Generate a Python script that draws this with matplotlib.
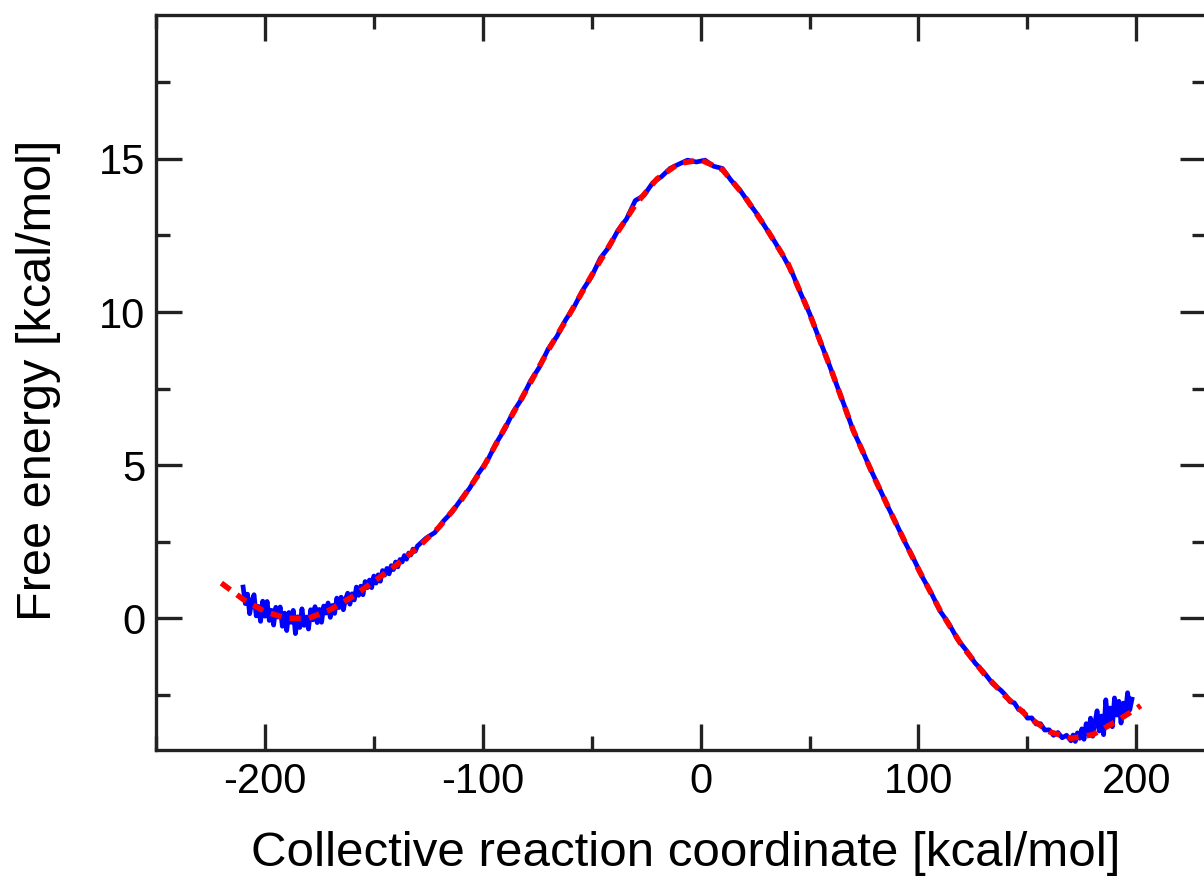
import matplotlib
matplotlib.use("Agg")
import matplotlib.pyplot as plt
from matplotlib.ticker import MultipleLocator

plt.rcParams['font.family'] = ['Liberation Sans', 'DejaVu Sans']
plt.rcParams['axes.unicode_minus'] = False

# Smooth fit (red dashed)
fit_x = [-220, -210, -200, -190, -180, -170, -160, -150, -140, -130, -120, -110,
         -100, -90, -80, -70, -60, -50, -40, -30, -20, -10, 0, 10, 20, 30, 40,
         50, 60, 70, 80, 90, 100, 110, 120, 130, 140, 150, 160, 170, 180, 190,
         200, 202]
fit_y = [1.15, 0.62, 0.22, 0.00, 0.00, 0.28, 0.70, 1.20, 1.72, 2.30, 2.98, 3.85,
         4.90, 6.20, 7.45, 8.75, 9.95, 11.20, 12.40, 13.50, 14.35, 14.85, 14.97,
         14.65, 13.80, 12.75, 11.60, 9.95, 8.10, 6.15, 4.55, 3.05, 1.60, 0.25,
         -0.90, -1.80, -2.55, -3.20, -3.70, -3.92, -3.80, -3.40, -2.95, -2.85]

# Noisy free-energy profile (blue), left noisy part
pmf_x_left = list(range(-210, -129))
pmf_y_left = [1.02, 0.48, 0.79, 0.15, 0.56, 0.77, 0.08, 0.39, -0.10, 0.56,
              0.07, 0.55, -0.07, 0.26, -0.22, 0.36, 0.04, 0.37, -0.26, 0.17,
              -0.40, 0.19, -0.13, 0.26, -0.50, 0.05, -0.30, 0.31, -0.23, 0.04,
              -0.35, 0.28, -0.05, 0.38, -0.14, 0.29, -0.13, 0.40, 0.17, 0.50,
              0.03, 0.42, 0.16, 0.66, 0.35, 0.69, 0.28, 0.63, 0.82, 0.46,
              0.80, 0.60, 1.02, 0.75, 1.05, 0.77, 1.20, 1.00, 1.25, 1.00,
              1.38, 1.15, 1.42, 1.21, 1.56, 1.41, 1.63, 1.45, 1.72, 1.59,
              1.84, 1.68, 1.92, 1.84, 2.05, 1.93, 2.13, 2.07, 2.26, 2.19,
              2.36]
# middle part
pmf_x_mid = [-126, -122, -118, -114, -110, -106, -102, -98, -94, -90, -86, -82,
             -78, -74, -70, -66, -62, -58, -54, -50, -46, -42, -38, -34, -30,
             -26, -22, -18, -14, -10, -6, -2, 2, 6, 10, 14, 18, 22, 26, 30, 34,
             38, 42, 46, 50, 54, 58, 62, 66, 70, 74, 78, 82, 86, 90, 94, 98,
             102, 106, 110, 114, 118, 122, 126, 130, 134, 138]
pmf_y_mid = [2.62, 2.80, 3.18, 3.48, 3.88, 4.25, 4.73, 5.13, 5.70, 6.17, 6.74,
             7.18, 7.76, 8.20, 8.79, 9.20, 9.74, 10.18, 10.73, 11.17, 11.76,
             12.13, 12.66, 13.04, 13.64, 13.81, 14.22, 14.42, 14.69, 14.83,
             14.96, 14.90, 14.96, 14.76, 14.69, 14.30, 13.99, 13.58, 13.19,
             12.74, 12.30, 11.82, 11.29, 10.60, 9.96, 9.21, 8.48, 7.71, 6.94,
             6.14, 5.52, 4.87, 4.26, 3.64, 3.06, 2.46, 1.91, 1.32, 0.81, 0.23,
             -0.18, -0.69, -1.05, -1.46, -1.76, -2.13, -2.36]
# right noisy part
pmf_x_right = [140, 142, 144, 146, 148, 150, 152, 154, 156, 158, 160, 162, 164,
               166, 168, 170] + list(range(171, 199))
pmf_y_right = [-2.51, -2.72, -2.76, -2.98, -3.03, -3.26, -3.25, -3.45, -3.44,
               -3.65, -3.64, -3.82, -3.73, -3.90, -3.82, -4.00,
               -3.81, -4.02, -3.74, -3.92, -3.61, -3.95, -3.44, -3.77, -3.26,
               -3.85, -3.41, -3.02, -3.68, -3.19, -3.80, -2.66, -3.37, -2.93,
               -3.54, -2.60, -3.16, -2.71, -3.42, -2.77, -3.13, -2.43, -2.99,
               -2.64]

pmf_x = pmf_x_left + pmf_x_mid + pmf_x_right
pmf_y = pmf_y_left + pmf_y_mid + pmf_y_right

x_label = "Collective reaction coordinate [kcal/mol]"
y_label = "Free energy [kcal/mol]"

W, H = 1204, 882
fig = plt.figure(figsize=(W / 100, H / 100), dpi=100)
ax = fig.add_axes([156 / W, 132 / H, (1206 - 156) / W, (750 - 15) / H])

ax.plot(pmf_x, pmf_y, color='#0000ff', lw=3.4, zorder=2)
ax.plot(fit_x, fit_y, color='#ff0000', lw=4.0, dashes=(2.0, 1.5), zorder=3)

ax.set_xlim(-250, 232)
ax.set_ylim(-4.3, 19.7)
ax.xaxis.set_major_locator(MultipleLocator(100))
ax.xaxis.set_minor_locator(MultipleLocator(50))
ax.yaxis.set_major_locator(MultipleLocator(5))
ax.yaxis.set_minor_locator(MultipleLocator(2.5))

ax.tick_params(which='both', direction='in', top=True, right=True,
               width=2.4, color='#222222')
ax.tick_params(which='major', length=19, labelsize=30)
ax.tick_params(which='minor', length=10)
ax.tick_params(axis='x', which='major', pad=8.5)
ax.tick_params(axis='y', which='major', pad=7.5)
for s in ax.spines.values():
    s.set_linewidth(2.4)
    s.set_color('#222222')

ax.set_xlabel(x_label, fontsize=35.5, va='baseline', ha='center')
ax.xaxis.set_label_coords(0.504, (882 - 866 - 132) / 735)
ax.set_ylabel(y_label, fontsize=35, va='center', ha='center')
ax.yaxis.set_label_coords((39 - 156) / 1050, 0.503)

fig.savefig("out.png", dpi=100)
